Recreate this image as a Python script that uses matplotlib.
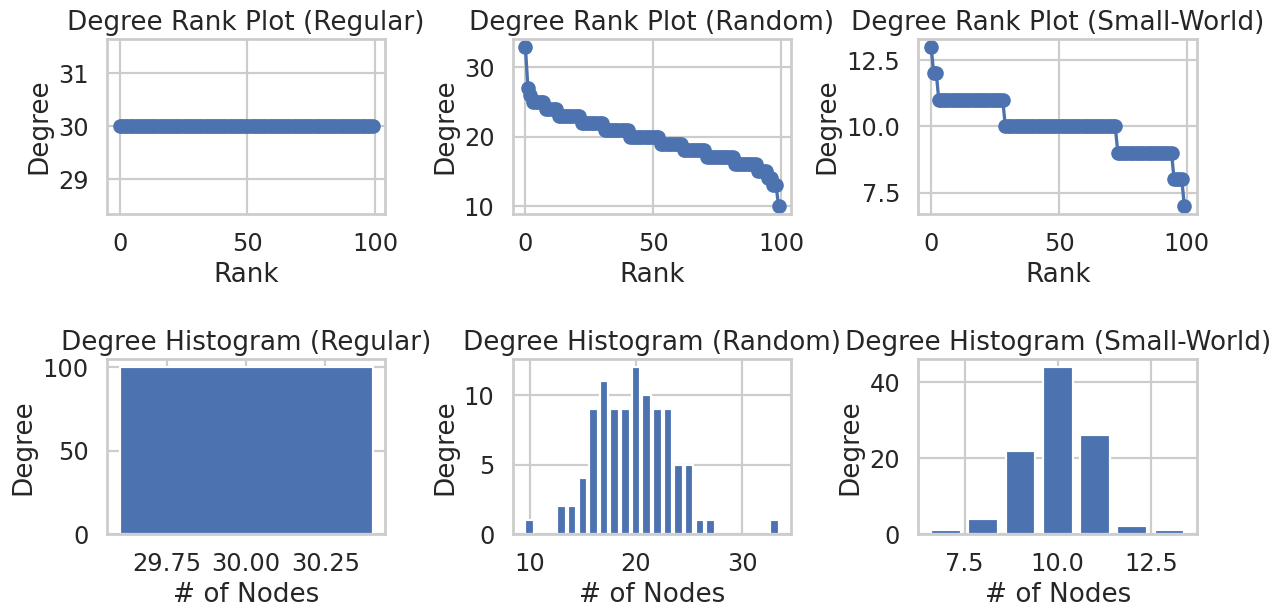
import matplotlib
matplotlib.use('Agg')
import matplotlib.pyplot as plt
import seaborn as sns

# degree -> node count
regular_degrees = [30]
regular_counts = [100]

random_degrees = [10, 13, 14, 15, 16, 17, 18, 19, 20, 21, 22, 23, 24, 25, 26, 27, 33]
random_counts = [1, 2, 2, 4, 9, 11, 9, 9, 12, 10, 9, 9, 5, 5, 1, 1, 1]

small_world_degrees = [7, 8, 9, 10, 11, 12, 13]
small_world_counts = [1, 4, 22, 44, 26, 2, 1]

graphs = [
    ('Regular', regular_degrees, regular_counts),
    ('Random', random_degrees, random_counts),
    ('Small-World', small_world_degrees, small_world_counts),
]


def degree_sequence(degrees, counts):
    seq = []
    for d, c in zip(degrees, counts):
        seq += [d] * c
    return sorted(seq, reverse=True)


sns.set_theme(style='whitegrid', context='talk')
color = sns.color_palette('deep')[0]

fig, axes = plt.subplots(2, 3, figsize=(12.2, 5.85), dpi=105)
fig.subplots_adjust(left=0.0835, right=0.9344, top=0.9365, bottom=0.1303,
                    wspace=0.457, hspace=0.829)

for i, (name, degrees, counts) in enumerate(graphs):
    ax = axes[0][i]
    ax.plot(degree_sequence(degrees, counts), color=color, marker='o')
    ax.set_title(f'Degree Rank Plot ({name})')
    ax.set_xlabel('Rank')
    ax.set_ylabel('Degree')

    ax = axes[1][i]
    ax.bar(degrees, counts, color=color)
    ax.set_title(f'Degree Histogram ({name})')
    ax.set_xlabel('# of Nodes')
    ax.set_ylabel('Degree')

fig.savefig('out.png')
